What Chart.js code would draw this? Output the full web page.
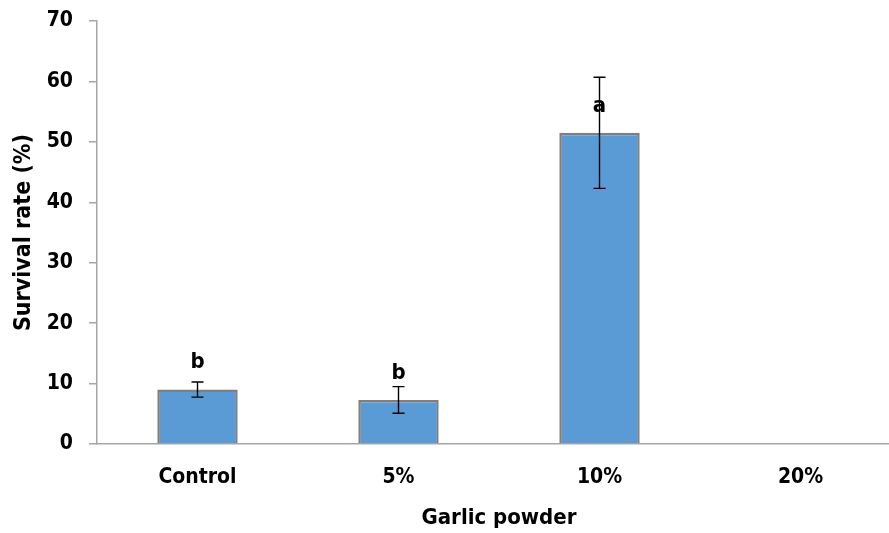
<!DOCTYPE html>
<html>
<head>
<script src="https://cdn.jsdelivr.net/npm/chart.js@4.4.1/dist/chart.umd.min.js"></script>
<style>
  html,body{margin:0;padding:0;overflow:hidden;background:#fff;}
  #wrap{width:902px;height:533px;}
</style>
</head>
<body>
<div id="wrap"><canvas id="myChart" width="902" height="533"></canvas></div>
<script>
const categories = ['Control', '5%', '10%', '20%'];
const survival = [9.0, 7.3, 51.5, 0];
const errors = [1.25, 2.2, 9.2, 0];
const letters = ['b', 'b', 'a', ''];
const yTicks = [0, 10, 20, 30, 40, 50, 60, 70];

const FONT = "'DejaVu Sans Condensed', 'Liberation Sans Narrow', 'DejaVu Sans', sans-serif";

// error bars + letters drawn over the bars
const errPlugin = {
  id: 'errPlugin',
  afterDatasetsDraw(chart) {
    const ctx = chart.ctx;
    const meta = chart.getDatasetMeta(0);
    const y = chart.scales.y;
    ctx.save();
    meta.data.forEach((bar, i) => {
      const x = bar.x;
      if (errors[i] > 0) {
        const top = y.getPixelForValue(survival[i] + errors[i]);
        const bot = y.getPixelForValue(survival[i] - errors[i]);
        ctx.strokeStyle = '#000';
        ctx.lineWidth = 1.4;
        ctx.beginPath();
        ctx.moveTo(x, top); ctx.lineTo(x, bot);
        ctx.moveTo(x - 6, top); ctx.lineTo(x + 6, top);
        ctx.moveTo(x - 6, bot); ctx.lineTo(x + 6, bot);
        ctx.stroke();
      }
      if (letters[i]) {
        ctx.fillStyle = '#000';
        ctx.font = 'bold 22px ' + FONT;
        ctx.textAlign = 'center';
        ctx.textBaseline = 'middle';
        ctx.fillText(letters[i], x, bar.y - 27);
      }
    });
    ctx.restore();
  }
};

const data = {
  labels: categories,
  datasets: [{
    data: survival,
    backgroundColor: '#5B9BD5',
    borderColor: '#7F7F7F',
    borderWidth: 2.5,
    barPercentage: 0.4,
    categoryPercentage: 1.0
  }]
};

const config = {
  type: 'bar',
  data: data,
  options: {
    responsive: false,
    animation: false,
    layout: { padding: { top: 21, right: 1, left: 0, bottom: 0 } },
    plugins: { legend: { display: false }, tooltip: { enabled: false } },
    scales: {
      x: {
        grid: { display: false, drawTicks: false },
        border: { display: true, color: '#A6A6A6', width: 1.5 },
        ticks: { color: '#000', padding: 21, font: { family: FONT, size: 21, weight: 'bold' } },
        title: {
          display: true, text: 'Garlic powder', color: '#000',
          font: { family: FONT, size: 22, weight: 'bold' },
          padding: { top: 0, bottom: 2 }
        },
        afterFit(s) { s.height = 89; s.paddingLeft = 0; s.paddingRight = 0; }
      },
      y: {
        min: 0, max: 70,
        afterBuildTicks(s) { s.ticks = yTicks.map(v => ({ value: v })); },
        grid: { display: true, drawOnChartArea: false, tickLength: 8, color: '#A6A6A6', lineWidth: 1.5 },
        border: { display: true, color: '#A6A6A6', width: 1.5 },
        ticks: { color: '#000', padding: 16, font: { family: FONT, size: 21, weight: 'bold' } },
        title: {
          display: true, text: 'Survival rate (%)', color: '#000',
          font: { family: FONT, size: 23, weight: 'bold' },
          padding: { top: 10, bottom: 0 }
        },
        afterFit(s) { s.width = 97; s.paddingTop = 0; s.paddingBottom = 0; }
      }
    }
  },
  plugins: [errPlugin]
};

new Chart(document.getElementById('myChart'), config);
</script>
</body>
</html>
